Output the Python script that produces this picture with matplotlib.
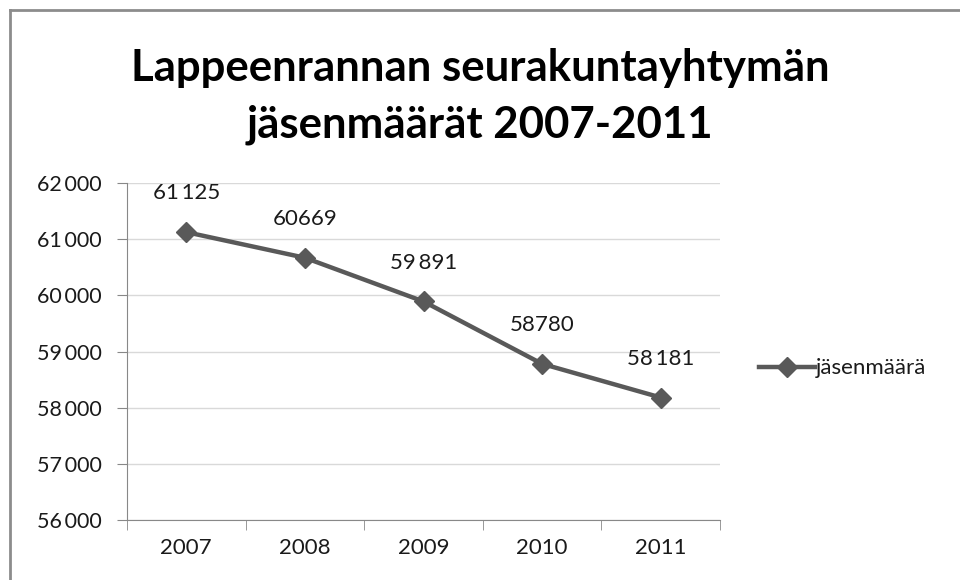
import matplotlib
matplotlib.use("Agg")
import matplotlib.pyplot as plt
from matplotlib.lines import Line2D

years = ["2007", "2008", "2009", "2010", "2011"]
members = [61125, 60669, 59891, 58780, 58181]
point_labels = ["61\u2009125", "60669", "59\u2009891", "58780", "58\u2009181"]
y_ticks = [56000, 57000, 58000, 59000, 60000, 61000, 62000]
y_tick_labels = ["56\u2009000", "57\u2009000", "58\u2009000", "59\u2009000",
                 "60\u2009000", "61\u2009000", "62\u2009000"]

plt.rcParams['font.family'] = ['Lato', 'DejaVu Sans']

fig = plt.figure(figsize=(9.6, 5.8), dpi=100)
ax = fig.add_axes([127 / 960, 1 - 520 / 580, 593 / 960, 337 / 580])

color = '#595959'
txt = '#1a1a1a'
x = list(range(len(years)))
ax.plot(x, members, color=color, lw=3.2, marker='D', markersize=10,
        label='jäsenmäärä', zorder=3)
for xi, yi, lab in zip(x, members, point_labels):
    ax.annotate(lab, (xi, yi), xytext=(0, 28), textcoords='offset points',
                ha='center', va='center', fontsize=16, color=txt)

ax.set_xlim(-0.5, len(years) - 0.5)
ax.set_ylim(56000, 62000)
ax.set_yticks(y_ticks)
ax.set_yticklabels(y_tick_labels, fontsize=15.5, color=txt)
ax.set_xticks(x)
ax.set_xticklabels(years, fontsize=16, color=txt)
ax.set_xticks([i - 0.5 for i in range(len(years) + 1)], minor=True)
ax.tick_params(axis='x', which='major', length=0, pad=13)
ax.tick_params(axis='x', which='minor', length=7, color='#888888')
ax.tick_params(axis='y', length=7, color='#888888', pad=11)
ax.grid(axis='y', color='#d9d9d9', lw=1)
ax.set_axisbelow(True)
for s in ['top', 'right']:
    ax.spines[s].set_visible(False)
for s in ['left', 'bottom']:
    ax.spines[s].set_color('#888888')

ax.legend(loc='center left', bbox_to_anchor=(1.032, 0.45), frameon=False,
          fontsize=16, handlelength=2.5, handletextpad=0.05, labelcolor=txt)

fig.text(0.5, 1 - 68 / 580, "Lappeenrannan seurakuntayhtymän", ha='center',
         va='center', fontsize=31.5, fontweight='bold')
fig.text(0.5, 1 - 125 / 580, "jäsenmäärät 2007-2011", ha='center',
         va='center', fontsize=31.5, fontweight='bold')

# outer chart frame (only top and left edges visible in the crop)
fig.add_artist(Line2D([10 / 960, 10 / 960], [0, 1 - 10 / 580],
                      transform=fig.transFigure, color='#8c8c8c', lw=2))
fig.add_artist(Line2D([10 / 960, 1], [1 - 10 / 580, 1 - 10 / 580],
                      transform=fig.transFigure, color='#8c8c8c', lw=2))

fig.savefig("out.png", dpi=100)
